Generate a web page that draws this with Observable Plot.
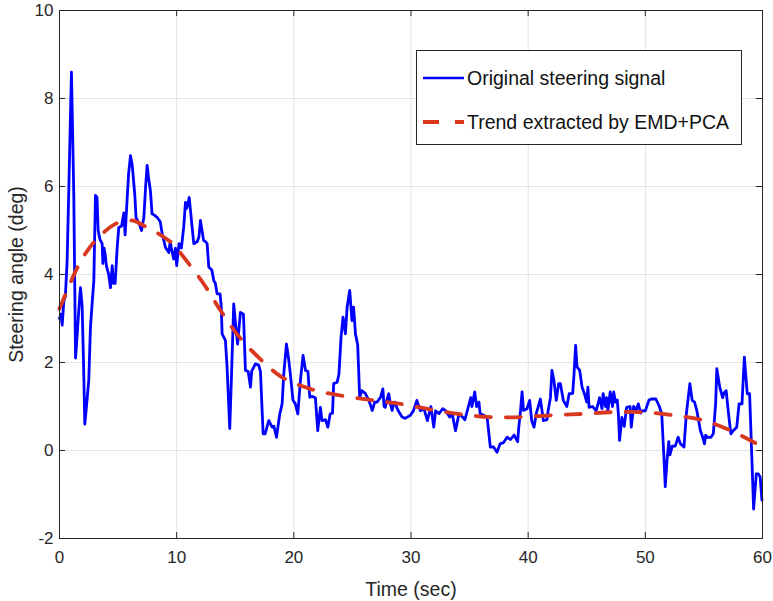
<!DOCTYPE html>
<html>
<head>
<meta charset="utf-8">
<script src="https://cdn.jsdelivr.net/npm/d3@7"></script>
<script src="https://cdn.jsdelivr.net/npm/@observablehq/plot@0.6"></script>
<style>
  body { margin: 0; background: #fff; }
  #wrap { position: relative; width: 773px; height: 601px; font-family: "Liberation Sans", Arial, Helvetica, sans-serif; }
  #wrap svg g[aria-label="x-axis label"], #wrap svg g[aria-label="y-axis label"] { font-size: 19.5px; }
  #legend { position: absolute; left: 416px; top: 50px; width: 326px; height: 95px; border: 1px solid #262626; background: #fff; box-sizing: border-box; font-size: 19.5px; color: #111; }
  .row { position: absolute; left: 0; height: 24px; display: flex; align-items: center; white-space: nowrap; }
  .row svg { display: block; margin-left: 6px; margin-right: 3px; }
</style>
</head>
<body>
<div id="wrap">
  <div id="legend">
    <div class="row" style="top:15px"><svg width="41" height="10"><line x1="0" y1="5" x2="41" y2="5" stroke="#0000ff" stroke-width="2.5"/></svg><span>Original steering signal</span></div>
    <div class="row" style="top:59px"><svg width="41" height="10"><line x1="0" y1="5" x2="41" y2="5" stroke="#d9381e" stroke-width="3.8" stroke-dasharray="16,16"/></svg><span>Trend extracted by EMD+PCA</span></div>
  </div>
</div>
<script>
const xTicks = [0, 10, 20, 30, 40, 50, 60];
const yTicks = [-2, 0, 2, 4, 6, 8, 10];

const signalT = [0,0.12,0.23,0.37,0.5,0.65,0.8,0.95,1.02,1.1,1.22,1.3,1.37,1.5,1.65,1.79,1.93,2.05,2.16,2.3,2.5,2.64,2.8,2.93,3.07,3.2,3.3,3.45,3.64,3.7,3.8,3.9,4.0,4.2,4.35,4.5,4.6,4.75,4.92,5.06,5.3,5.49,5.6,5.77,5.9,6.06,6.2,6.3,6.43,6.53,6.8,7.0,7.2,7.35,7.48,7.6,7.76,7.9,8.1,8.33,8.6,8.76,9.04,9.2,9.33,9.45,9.55,9.75,9.9,10.0,10.2,10.4,10.6,10.75,10.85,10.95,11.07,11.2,11.32,11.46,11.76,11.9,12.03,12.3,12.45,12.6,12.74,13.0,13.17,13.3,13.45,13.7,13.8,13.88,14.16,14.3,14.53,14.65,14.87,15.0,15.2,15.44,15.7,15.87,16.1,16.3,16.4,16.72,17.0,17.15,17.38,17.55,17.86,18.15,18.3,18.52,18.8,19.0,19.14,19.37,19.57,19.7,19.93,20.13,20.34,20.56,20.79,21.0,21.2,21.36,21.55,21.84,22.04,22.27,22.4,22.7,22.9,23.1,23.3,23.4,23.7,23.85,24.03,24.2,24.4,24.55,24.77,24.96,25.1,25.26,25.45,25.62,25.8,26.1,26.4,26.7,26.9,27.1,27.4,27.6,27.7,27.8,28.0,28.1,28.25,28.39,28.5,28.6,28.9,29.24,29.5,29.95,30.2,30.5,30.8,31.1,31.4,31.7,31.94,32.1,32.4,32.7,32.98,33.3,33.5,33.8,34.1,34.4,34.6,34.9,35.1,35.2,35.44,35.6,35.8,35.9,36.2,36.5,36.77,37.05,37.34,37.6,37.9,38.2,38.5,38.8,39.1,39.2,39.35,39.48,39.6,39.9,40.13,40.3,40.5,40.7,41.04,41.3,41.6,41.7,41.9,42.03,42.2,42.4,42.6,42.75,43.0,43.3,43.5,43.8,43.9,44.05,44.17,44.4,44.6,44.8,45.0,45.1,45.2,45.5,45.8,46.1,46.3,46.4,46.6,46.7,46.8,47.0,47.2,47.3,47.45,47.6,47.7,47.8,48.0,48.2,48.4,48.7,48.8,49.0,49.2,49.4,49.6,49.7,50.0,50.3,50.5,50.9,51.2,51.4,51.6,51.7,51.85,52.0,52.1,52.3,52.55,52.8,53.0,53.3,53.5,53.8,54.0,54.2,54.4,54.7,54.9,55.05,55.15,55.3,55.6,55.8,56.0,56.1,56.35,56.6,56.7,56.9,57.1,57.3,57.5,57.8,58.0,58.25,58.45,58.7,58.9,59.0,59.24,59.47,59.65,59.8,59.95];
const signalV = [3.0,3.1,2.85,3.4,3.5,4.3,6.0,7.8,8.6,7.5,5.8,3.8,2.1,2.6,3.2,3.7,3.3,2.0,0.6,1.0,1.6,2.8,3.4,3.85,5.8,5.75,5.0,4.8,4.7,4.25,4.6,4.45,4.2,4.0,3.7,4.2,3.8,3.8,4.6,5.07,5.1,5.4,4.9,5.7,6.3,6.7,6.5,6.2,5.8,5.3,5.15,5.0,5.3,6.0,6.48,6.2,5.9,5.38,5.35,5.3,5.2,4.93,4.62,4.55,4.5,4.75,4.6,4.35,4.6,4.2,4.7,4.6,5.07,5.64,5.5,5.6,5.75,5.4,5.07,4.7,4.75,4.85,5.23,4.77,4.75,4.7,4.17,4.1,3.86,3.8,3.56,3.56,3.3,2.65,2.5,1.9,0.5,1.45,3.33,2.95,2.42,3.14,3.1,1.82,1.8,1.44,1.8,1.97,1.94,1.8,0.38,0.38,0.68,0.53,0.55,0.3,0.83,1.06,1.74,2.42,2.05,1.74,1.14,1.06,0.83,1.59,2.16,1.82,1.8,1.21,1.23,1.2,0.45,0.98,0.68,0.7,0.53,0.83,0.85,1.52,1.55,1.74,2.58,3.03,2.65,3.26,3.64,2.95,3.26,2.65,2.4,1.21,1.36,1.3,1.14,0.91,1.1,1.1,1.21,1.4,1.0,0.98,1.2,1.29,1.05,0.91,1.05,1.1,0.91,0.76,0.73,0.8,0.9,1.14,0.9,0.95,0.68,1.0,0.53,0.9,0.84,0.95,0.9,0.76,0.85,0.45,0.84,0.76,0.7,1.0,1.2,1.0,1.33,1.0,1.1,0.84,0.8,0.75,0.08,0.08,-0.04,0.15,0.18,0.3,0.25,0.35,0.2,0.53,0.91,1.33,0.91,0.95,1.14,0.68,0.53,0.85,1.17,0.68,0.7,0.9,1.2,1.82,1.59,1.14,1.52,1.52,1.14,1.0,1.29,1.3,1.67,2.39,1.9,1.82,1.44,1.29,1.1,1.44,0.98,1.0,0.9,1.2,0.95,1.29,1.0,1.2,0.9,1.33,1.0,1.33,1.1,1.15,0.83,0.23,0.75,0.55,0.98,1.0,0.53,1.0,0.9,1.06,0.85,0.9,0.9,1.14,1.17,1.17,1.0,0.83,-0.23,-0.82,-0.23,0.2,-0.1,0.1,0.1,0.3,0.15,0.08,0.83,1.52,1.14,1.1,0.9,0.45,0.3,0.15,0.35,0.3,0.3,0.38,1.06,1.86,1.44,1.2,1.3,1.36,0.83,0.38,0.45,0.53,1.06,1.06,2.12,1.29,1.29,0.53,-1.33,-0.53,-0.53,-0.6,-1.13];

const trendT = [0,1.4,2.2,3.07,4.78,6.2,7.2,8.5,9.7,10.7,12.2,13.7,15.25,16.97,18.97,21.4,23.96,26.8,29.1,31.7,34.3,36.8,39.35,41.9,44.5,47.1,49.8,52.4,55.0,57.3,59.8,60];
const trendV = [3.22,4.09,4.47,4.77,5.15,5.23,5.11,4.92,4.69,4.36,3.83,3.2,2.61,2.12,1.67,1.4,1.25,1.14,1.06,0.93,0.82,0.76,0.76,0.8,0.83,0.87,0.87,0.8,0.68,0.45,0.11,0.08];

const signal = signalT.map((t, i) => ({t, v: signalV[i]}));
const trend = trendT.map((t, i) => ({t, v: trendV[i]}));

const W = 773, H = 601, mL = 59, mR = 11, mT = 10, mB = 63;
const innerW = W - mL - mR, innerH = H - mT - mB;
const tk = 6;
const axisColor = "#262626";

const chart = Plot.plot({
  width: W, height: H,
  marginLeft: mL, marginRight: mR, marginTop: mT, marginBottom: mB,
  style: {fontFamily: '"Liberation Sans", Arial, Helvetica, sans-serif', fontSize: "17px", color: axisColor, background: "#fff"},
  x: {domain: [0, 60]},
  y: {domain: [-2, 10]},
  marks: [
    Plot.gridX(xTicks, {stroke: "#e3e3e3", strokeOpacity: 1}),
    Plot.gridY(yTicks, {stroke: "#e3e3e3", strokeOpacity: 1}),
    Plot.line(signal, {x: "t", y: "v", stroke: "#0000ff", strokeWidth: 2.8, strokeLinejoin: "round"}),
    Plot.line(trend, {x: "t", y: "v", stroke: "#d9381e", strokeWidth: 3.8, strokeDasharray: "15,15", curve: "catmull-rom"}),
    Plot.frame({stroke: axisColor, strokeWidth: 1}),
    Plot.tickX(xTicks, {x: d => d, stroke: axisColor, insetTop: innerH - tk}),
    Plot.tickX(xTicks, {x: d => d, stroke: axisColor, insetBottom: innerH - tk}),
    Plot.tickY(yTicks, {y: d => d, stroke: axisColor, insetRight: innerW - tk}),
    Plot.tickY(yTicks, {y: d => d, stroke: axisColor, insetLeft: innerW - tk}),
    Plot.axisX(xTicks, {anchor: "bottom", tickSize: 0, tickPadding: 12, tickFormat: d => String(d), label: "Time (sec)", labelAnchor: "center", labelArrow: "none", labelOffset: 57}),
    Plot.axisY(yTicks, {anchor: "left", tickSize: 0, tickPadding: 6, tickFormat: d => String(d), label: "Steering angle (deg)", labelAnchor: "center", labelArrow: "none", labelOffset: 50})
  ]
});
document.getElementById("wrap").prepend(chart);
</script>
</body>
</html>
